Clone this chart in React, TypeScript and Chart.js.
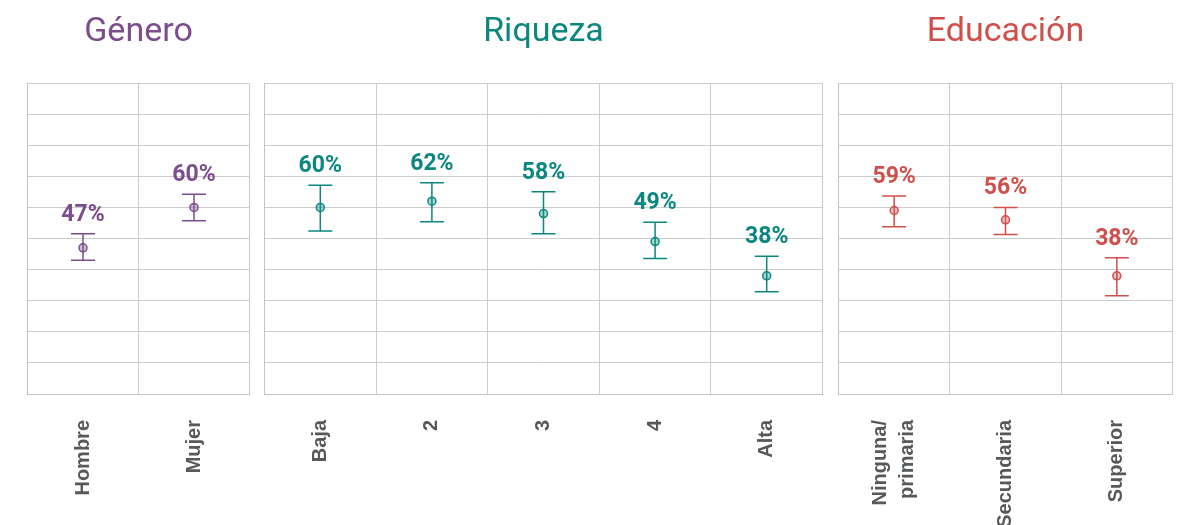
import React, { useEffect, useRef } from 'react';
import { Chart, registerables } from 'chart.js';
Chart.register(...registerables);

// ---- Data ----
const generoLabels = ['Hombre', 'Mujer'];
const generoValues = [47, 60];
const generoLow = [43, 55.7];
const generoHigh = [51.5, 64.2];

const riquezaLabels = ['Baja', '2', '3', '4', 'Alta'];
const riquezaValues = [60, 62, 58, 49, 38];
const riquezaLow = [52.4, 55.4, 51.5, 43.6, 32.9];
const riquezaHigh = [67.1, 67.9, 65, 55.2, 44.3];

const educacionLabels: (string | string[])[] = [['Ninguna/', 'primaria'], 'Secundaria', 'Superior'];
const educacionValues = [59, 56, 38];
const educacionLow = [53.8, 51.3, 31.6];
const educacionHigh = [63.7, 60, 43.8];

const yTicks = { min: 0, max: 100, step: 10 };

type PanelProps = {
  title: string;
  labels: (string | string[])[];
  values: number[];
  low: number[];
  high: number[];
  color: string;
  fill: string;
  left: number;
  width: number;
};

const PAD = 5;
const H = 525;
const TICK_SIZE = 20;
const TICK_LH = 1.38;
const TITLE_SIZE = 34;
const TITLE_LH = 1.2;
const TITLE_TOP = 12;
const PLOT_TOP = 83;

function Panel({ title, labels, values, low, high, color, fill, left, width }: PanelProps) {
  const ref = useRef<HTMLCanvasElement | null>(null);
  useEffect(() => {
    if (!ref.current) return;
    const errorPlugin = {
      id: 'errorBars',
      beforeDraw(chart: any) {
        const s = chart.scales.x;
        const items = s.getLabelItems();
        const lh = TICK_SIZE * TICK_LH;
        items.forEach((it: any) => {
          if (Array.isArray(it.label) && it.label.length > 1 && !it._centered) {
            it.options.translation[0] -= ((it.label.length - 1) * lh) / 2;
            it._centered = true;
          }
        });
      },
      beforeDatasetsDraw(chart: any) {
        const { ctx, scales } = chart;
        const x = scales.x;
        const y = scales.y;
        ctx.save();
        ctx.strokeStyle = color;
        ctx.lineWidth = 1.5;
        for (let i = 0; i < values.length; i++) {
          const px = x.getPixelForValue(i);
          const yl = y.getPixelForValue(low[i]);
          const yh = y.getPixelForValue(high[i]);
          ctx.beginPath();
          ctx.moveTo(px, yl);
          ctx.lineTo(px, yh);
          ctx.moveTo(px - 12, yh);
          ctx.lineTo(px + 12, yh);
          ctx.moveTo(px - 12, yl);
          ctx.lineTo(px + 12, yl);
          ctx.stroke();
        }
        ctx.restore();
      },
      afterDatasetsDraw(chart: any) {
        const { ctx, scales } = chart;
        const x = scales.x;
        const y = scales.y;
        ctx.save();
        ctx.fillStyle = color;
        ctx.font = 'bold 23px Roboto';
        ctx.textAlign = 'center';
        ctx.textBaseline = 'alphabetic';
        for (let i = 0; i < values.length; i++) {
          const px = x.getPixelForValue(i);
          const yh = y.getPixelForValue(high[i]);
          ctx.fillText(values[i] + '%', px, yh - 13);
        }
        ctx.restore();
      },
    };
    const chart = new Chart(ref.current, {
      type: 'line',
      data: {
        labels: labels as any,
        datasets: [
          {
            data: values,
            showLine: false,
            pointRadius: 4,
            pointHoverRadius: 4,
            pointBorderWidth: 1.5,
            pointBorderColor: color,
            pointBackgroundColor: fill,
          },
        ],
      },
      options: {
        responsive: false,
        animation: false,
        events: [],
        layout: { padding: { left: PAD, right: PAD, top: 0, bottom: 0 } },
        plugins: {
          legend: { display: false },
          tooltip: { enabled: false },
          title: {
            display: true,
            text: title,
            color,
            font: { family: 'Roboto', size: TITLE_SIZE, weight: 'normal', lineHeight: TITLE_LH },
            padding: { top: TITLE_TOP, bottom: PLOT_TOP - TITLE_TOP - TITLE_SIZE * TITLE_LH },
          },
        },
        scales: {
          x: {
            type: 'category',
            offset: true,
            grid: { offset: true, color: '#cccccc', drawTicks: false, lineWidth: 1 },
            border: { display: true, color: '#c4c4c4' },
            ticks: {
              minRotation: 90,
              maxRotation: 90,
              autoSkip: false,
              padding: 26,
              color: '#55595c',
              font: { family: 'Liberation Sans', size: TICK_SIZE, weight: 'bold', lineHeight: TICK_LH },
            },
            afterFit: (s: any) => {
              s.height = 131;
            },
          },
          y: {
            min: yTicks.min,
            max: yTicks.max,
            ticks: { display: false, stepSize: yTicks.step },
            grid: { color: '#cccccc', drawTicks: false, lineWidth: 1 },
            border: { display: true, color: '#c4c4c4' },
          },
        },
      } as any,
      plugins: [errorPlugin],
    });
    return () => chart.destroy();
  }, []);
  const w = width + PAD * 2;
  return (
    <canvas
      ref={ref}
      width={w}
      height={H}
      style={{ position: 'absolute', left: left - PAD, top: 0, width: w, height: H }}
    />
  );
}

export default function App() {
  return (
    <div style={{ position: 'absolute', left: 0, top: 0, width: 1183, height: 525, background: '#fff', overflow: 'hidden' }}>
      <Panel
        title="Género"
        labels={generoLabels}
        values={generoValues}
        low={generoLow}
        high={generoHigh}
        color="#7b4d8d"
        fill="rgba(123,77,141,0.35)"
        left={27}
        width={223}
      />
      <Panel
        title="Riqueza"
        labels={riquezaLabels}
        values={riquezaValues}
        low={riquezaLow}
        high={riquezaHigh}
        color="#0b8780"
        fill="rgba(11,135,128,0.35)"
        left={264}
        width={559}
      />
      <Panel
        title="Educación"
        labels={educacionLabels}
        values={educacionValues}
        low={educacionLow}
        high={educacionHigh}
        color="#cf4f4b"
        fill="rgba(207,79,75,0.35)"
        left={838}
        width={335}
      />
    </div>
  );
}
